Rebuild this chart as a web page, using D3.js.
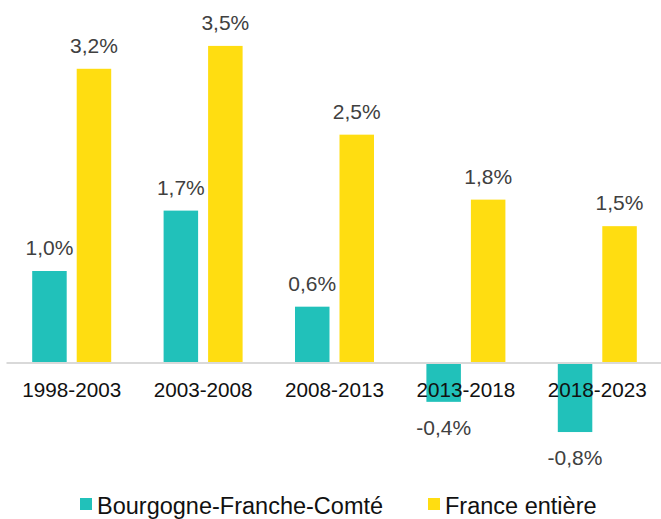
<!DOCTYPE html>
<html>
<head>
<meta charset="utf-8">
<script src="https://cdn.jsdelivr.net/npm/d3@7"></script>
<style>
  body { margin: 0; background: #fff; }
  text { font-family: "Liberation Sans", Arial, sans-serif; }
</style>
</head>
<body>
<script>
// Data
const periods = ["1998-2003", "2003-2008", "2008-2013", "2013-2018", "2018-2023"];
const seriesNames = ["Bourgogne-Franche-Comté", "France entière"];
const bfcValues = [1.0, 1.66, 0.61, -0.43, -0.76];
const franceValues = [3.21, 3.46, 2.49, 1.78, 1.49];
const colors = ["#21C1BA", "#FFDD11"];

// Canvas setup
const canvasWidth = 661;
const canvasHeight = 519;

const svg = d3.select('body')
    .append('svg')
    .attr('width', canvasWidth)
    .attr('height', canvasHeight);

const zeroY = 362.5;
const unit = 91.5;

let yScale = d3.scaleLinear()
    .domain([-1, 4])
    .range([zeroY + unit, zeroY - 4 * unit]);

let x0 = d3.scaleBand()
    .domain(periods)
    .range([6, 663]);

let c = x0.bandwidth() / 2;
let x1 = d3.scaleBand()
    .domain(seriesNames)
    .range([c - 39.5, c + 39.5])
    .paddingInner(0.2247);

const fmt = (v) => d3.format(".1f")(v).replace(".", ",").replace("−", "-") + "%";

let rows = periods.map((p, i) => ({
    period: p,
    values: [bfcValues[i], franceValues[i]]
}));

// Bars
let groups = svg.selectAll('g.group')
    .data(rows)
    .enter()
    .append('g')
    .classed('group', true)
    .attr('transform', d => `translate(${x0(d.period)},0)`);

groups.selectAll('rect')
    .data(d => d.values.map((v, k) => ({ name: seriesNames[k], value: v, k: k })))
    .enter()
    .append('rect')
    .attr('x', d => x1(d.name))
    .attr('width', x1.bandwidth())
    .attr('y', d => yScale(Math.max(0, d.value)))
    .attr('height', d => Math.abs(yScale(d.value) - yScale(0)))
    .attr('fill', d => colors[d.k]);

// Value labels
groups.selectAll('text.val')
    .data(d => d.values.map((v, k) => ({ name: seriesNames[k], value: v })))
    .enter()
    .append('text')
    .classed('val', true)
    .attr('x', d => x1(d.name) + x1.bandwidth() / 2)
    .attr('y', d => d.value >= 0 ? yScale(d.value) - 16 : yScale(d.value) + 33)
    .attr('text-anchor', 'middle')
    .attr('font-size', '21px')
    .attr('fill', '#404040')
    .text(d => fmt(d.value));

// Category axis on the zero line
let axis = svg.append('g')
    .attr('transform', `translate(0,${zeroY})`)
    .call(d3.axisBottom(x0).tickSize(0).tickPadding(20).tickSizeOuter(0));

axis.select('.domain')
    .attr('stroke', '#D9D9D9')
    .attr('stroke-width', 2);

axis.selectAll('text')
    .attr('font-size', '20.7px')
    .attr('font-family', '"Liberation Sans", Arial, sans-serif')
    .attr('fill', '#111');

// Legend
const legendX = [80, 428];
let legend = svg.selectAll('g.legend')
    .data(seriesNames)
    .enter()
    .append('g')
    .classed('legend', true)
    .attr('transform', (d, i) => `translate(${legendX[i]},498)`);

legend.append('rect')
    .attr('width', 12)
    .attr('height', 12)
    .attr('fill', (d, i) => colors[i]);

legend.append('text')
    .attr('x', 17)
    .attr('y', 15.5)
    .attr('font-size', '23.5px')
    .attr('fill', '#111')
    .text(d => d);
</script>
</body>
</html>
